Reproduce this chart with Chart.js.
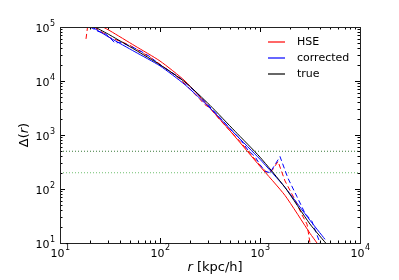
<!DOCTYPE html>
<html>
<head>
<meta charset="utf-8">
<script src="https://cdn.jsdelivr.net/npm/chart.js@4.4.0/dist/chart.umd.min.js"></script>
<style>
  html, body { margin: 0; padding: 0; background: #fff; }
</style>
</head>
<body>
<canvas id="chart" width="399" height="280"></canvas>
<script>
// radius in kpc/h, overdensity Delta(r)
const hseR = [26.9, 31.6, 56.2, 100, 178, 316, 562, 1000, 1778, 3162, 3715];
const hseD = [100000, 85114, 44668, 23442, 10000, 3162, 933, 263, 76, 15.1, 10];

const hseNoisyR = [18.2, 19.1, 21.4, 24.0, 28.2, 31.6, 35.5, 39.8, 50.1, 63.1, 79.4, 100, 158, 251, 282, 316, 398, 501, 631, 794, 1000, 1175, 1318, 1514, 1778, 2239, 2630, 2951, 3162];
const hseNoisyD = [60256, 120226, 104713, 89125, 74131, 63096, 58884, 54954, 45709, 35481, 27542, 20417, 10965, 4571, 3631, 3162, 1905, 1202, 759, 457, 275, 200, 219, 324, 141, 63, 33.1, 22.4, 10];

const corrR = [20.9, 31.6, 56.2, 100, 178, 316, 562, 1000, 1778, 3162, 4467];
const corrD = [100000, 63096, 34674, 19055, 8511, 3162, 1047, 355, 107, 26.3, 11.7];

const corrNoisyR = [20.0, 24.0, 28.2, 31.6, 35.5, 39.8, 50.1, 63.1, 79.4, 100, 158, 251, 316, 398, 501, 631, 759, 891, 1000, 1122, 1259, 1585, 1905, 2344, 2818, 3311, 3631, 3981];
const corrNoisyD = [100000, 83176, 75858, 63096, 50119, 52481, 44668, 36308, 28184, 19953, 11482, 5248, 3311, 2089, 1318, 851, 525, 398, 282, 214, 200, 398, 158, 72, 35.5, 25.1, 15.8, 10];

const trueR = [22.4, 31.6, 56.2, 100, 178, 316, 562, 1000, 1778, 3162, 4786];
const trueD = [100000, 70795, 38019, 19953, 9550, 3548, 1175, 389, 107, 22.4, 8.9];

const refR = [10, 10000];
const ref500 = [500, 500];
const ref200 = [200, 200];

const xTickLabels = ['1', '2', '3', '4'];       // exponents of 10
const yTickLabels = ['1', '2', '3', '4', '5'];
const legendLabels = ['HSE', 'corrected', 'true'];

const FONT = "'DejaVu Sans', sans-serif";

const pts = (r, d) => r.map((v, i) => ({ x: v, y: d[i] }));

const line = (label, r, d, color, dash, order) => ({
  label: label,
  data: pts(r, d),
  borderColor: color,
  backgroundColor: color,
  borderWidth: 1,
  borderDash: dash,
  pointRadius: 0,
  tension: dash.length ? 0 : 0.2,
  fill: false,
  clip: 0,
  order: order,
});

const datasets = [
  line('true', trueR, trueD, '#000000', [], 0),
  line('corrected', corrR, corrD, '#0000ff', [], 1),
  line('corrected noisy', corrNoisyR, corrNoisyD, '#0000ff', [5, 3], 2),
  line('HSE', hseR, hseD, '#ff0000', [], 3),
  line('HSE noisy', hseNoisyR, hseNoisyD, '#ff0000', [5, 3], 4),
  line('500', refR, ref500, '#3a7a3a', [1, 2], 5),
  line('200', refR, ref200, '#70c070', [1, 2], 5),
];
const legendColors = { 'HSE': '#ff0000', 'corrected': '#0000ff', 'true': '#000000' };

// frame, inward ticks, tick labels, axis titles, legend
const decorations = {
  id: 'decorations',
  afterDraw(chart) {
    const { ctx, chartArea: a, scales: { x, y } } = chart;
    ctx.save();

    // inward ticks on all four sides
    ctx.strokeStyle = '#000';
    ctx.lineWidth = 1;
    ctx.beginPath();
    for (let e = 1; e <= 4; e++) {
      for (let m = 1; m <= 9; m++) {
        const v = m * Math.pow(10, e);
        const len = m === 1 ? 5 : 2.5;
        if (v <= 10000) {
          const px = Math.round(x.getPixelForValue(v)) + 0.5;
          ctx.moveTo(px, a.bottom); ctx.lineTo(px, a.bottom - len);
          ctx.moveTo(px, a.top); ctx.lineTo(px, a.top + len);
        }
        if (v <= 100000) {
          const py = Math.round(y.getPixelForValue(v)) + 0.5;
          ctx.moveTo(a.left, py); ctx.lineTo(a.left + len, py);
          ctx.moveTo(a.right, py); ctx.lineTo(a.right - len, py);
        }
      }
    }
    ctx.stroke();

    // frame
    ctx.strokeStyle = '#222';
    ctx.strokeRect(a.left + 0.5, a.top + 0.5, a.right - a.left, a.bottom - a.top);

    // tick labels 10^n
    ctx.fillStyle = '#000';
    ctx.textBaseline = 'alphabetic';
    const big = '11px ' + FONT, small = '8px ' + FONT;
    xTickLabels.forEach((ex) => {
      const px = x.getPixelForValue(Math.pow(10, +ex));
      ctx.font = big; const w1 = ctx.measureText('10').width;
      ctx.font = small; const w2 = ctx.measureText(ex).width;
      const x0 = px - (w1 + w2) / 2;
      ctx.textAlign = 'left';
      ctx.font = big; ctx.fillText('10', x0, a.bottom + 14);
      ctx.font = small; ctx.fillText(ex, x0 + w1 + 0.5, a.bottom + 7);
    });
    yTickLabels.forEach((ex) => {
      const py = y.getPixelForValue(Math.pow(10, +ex));
      ctx.font = small; const w2 = ctx.measureText(ex).width;
      const right = a.left - 5;
      ctx.textAlign = 'right';
      ctx.fillText(ex, right, py - 1.5);
      ctx.font = big; ctx.fillText('10', right - w2 - 0.5, py + 4.5);
    });

    // x title: italic r
    const tf = '13px ' + FONT, tfi = 'italic 13px ' + FONT;
    ctx.font = tfi; const wr = ctx.measureText('r').width;
    ctx.font = tf; const wrest = ctx.measureText(' [kpc/h]').width;
    const cx = (a.left + a.right) / 2 + 5;
    const sx = cx - (wr + wrest) / 2;
    ctx.textAlign = 'left';
    ctx.font = tfi; ctx.fillText('r', sx, 270.5);
    ctx.font = tf; ctx.fillText(' [kpc/h]', sx + wr, 270.5);

    // y title: Δ(r)
    ctx.save();
    ctx.translate(27.5, (a.top + a.bottom) / 2);
    ctx.rotate(-Math.PI / 2);
    ctx.font = tf; const wa = ctx.measureText('Δ(').width, wc = ctx.measureText(')').width;
    ctx.font = tfi; const wb = ctx.measureText('r').width;
    let tx = -(wa + wb + wc) / 2;
    ctx.font = tf; ctx.fillText('Δ(', tx, 0); tx += wa;
    ctx.font = tfi; ctx.fillText('r', tx, 0); tx += wb;
    ctx.font = tf; ctx.fillText(')', tx, 0);
    ctx.restore();

    // legend
    ctx.font = big;
    ctx.textBaseline = 'middle';
    legendLabels.forEach((lab, i) => {
      const ly = 42 + i * 16;
      ctx.strokeStyle = legendColors[lab];
      ctx.lineWidth = 1.2;
      ctx.beginPath();
      ctx.moveTo(268, ly); ctx.lineTo(285, ly);
      ctx.stroke();
      ctx.fillStyle = '#000';
      ctx.fillText(lab, 297, ly + 0.5);
    });

    ctx.restore();
  }
};

new Chart(document.getElementById('chart'), {
  type: 'line',
  data: { datasets: datasets },
  plugins: [decorations],
  options: {
    responsive: false,
    animation: false,
    devicePixelRatio: 1,
    layout: { padding: { top: 27, right: 39, left: 0, bottom: 0 } },
    plugins: { legend: { display: false }, tooltip: { enabled: false } },
    scales: {
      x: {
        type: 'logarithmic',
        min: 10,
        max: 10000,
        ticks: { display: false },
        grid: { display: false },
        border: { display: false },
        afterFit: (s) => { s.height = 37; },
      },
      y: {
        type: 'logarithmic',
        min: 10,
        max: 100000,
        ticks: { display: false },
        grid: { display: false },
        border: { display: false },
        afterFit: (s) => { s.width = 60; },
      },
    },
  },
});
</script>
</body>
</html>
